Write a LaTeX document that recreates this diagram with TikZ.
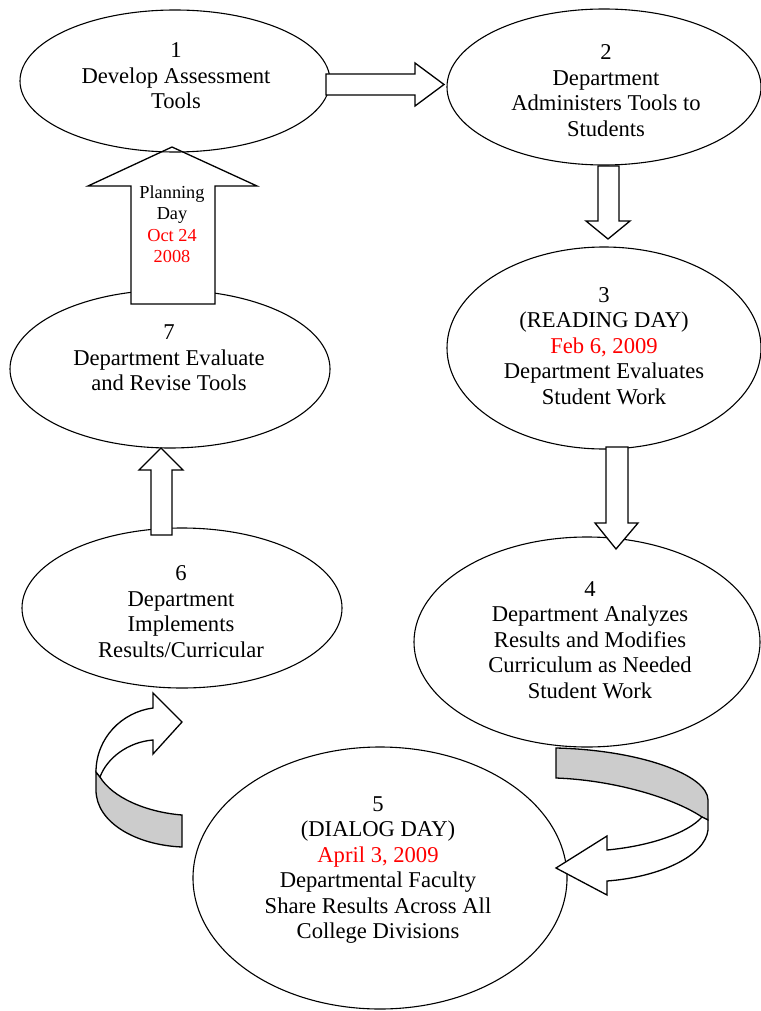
\documentclass[tikz,border=0pt]{standalone}
\usepackage{fontspec}
\setmainfont{Liberation Serif}
\usetikzlibrary{shapes.geometric}

\tikzset{
  stage/.style={draw, ellipse, line width=1.1pt, inner sep=0pt},
  blockarrow/.style={draw, fill=white, line width=1.3pt, line join=miter},
  ribbonback/.style={draw, fill=gray!40, line width=1.3pt, line join=miter},
  stagetext/.style={align=center, inner sep=0pt, font=\fontsize{22.6}{25.5}\selectfont},
  smalltext/.style={align=center, inner sep=0pt, font=\fontsize{18.3}{21.5}\selectfont}
}

\begin{document}
\begin{tikzpicture}[x=1pt, y=-1pt]
\useasboundingbox (0,0) rectangle (760,1011);

% the ellipses
\node[stage, minimum width=320pt, minimum height=158pt] (e7) at (170,369) {};
\node[stage, minimum width=320pt, minimum height=160pt] (e6) at (182,608) {};
\node[stage, minimum width=314pt, minimum height=156pt] (e2) at (604,87) {};
\node[stage, minimum width=314pt, minimum height=202pt] (e3) at (604,348) {};
\node[stage, minimum width=346pt, minimum height=210pt] (e4) at (587,642) {};
\node[stage, minimum width=374pt, minimum height=262pt] (e5) at (380,878) {};

% planning day arrow, 7 -> 1
\draw[blockarrow] (131,304) -- (131,186) -- (88,186) -- (172,147) -- (257,186) -- (215,186) -- (215,304) -- cycle;
\node[stage, minimum width=310pt, minimum height=142pt] (e1) at (175,81) {};

% straight block arrows
\draw[blockarrow] (326,74) -- (415,74) -- (415,63) -- (444,84.5) -- (415,106) -- (415,95) -- (326,95) -- cycle;
\draw[blockarrow] (598,166) -- (619,166) -- (619,221) -- (630,221) -- (608,239) -- (586,221) -- (598,221) -- cycle;
\draw[blockarrow] (606,447) -- (628,447) -- (628,523) -- (638,523) -- (616,549) -- (595,523) -- (606,523) -- cycle;
\draw[blockarrow] (151,535) -- (151,470) -- (139,470) -- (161,448) -- (183,470) -- (172,470) -- (172,535) -- cycle;

% curved arrow 4 -> 5
\draw[ribbonback] (556,748) .. controls (640,750) and (708,775) .. (708,800) -- (708,820) -- (702,817)
  .. controls (672,797) and (612,780) .. (556,778) -- cycle;
\draw[blockarrow] (702,817) -- (708,820) -- (708,830) .. controls (705,856) and (660,877) .. (607,881)
  -- (607,895) -- (556,868) -- (607,836) -- (607,850) .. controls (650,846) and (688,833) .. (702,817) -- cycle;

% curved arrow 5 -> 6
\draw[ribbonback] (96,772) -- (100,777) .. controls (112,797) and (145,812) .. (182,815) -- (182,847)
  .. controls (135,845) and (96,822) .. (96,790) -- cycle;
\draw[blockarrow] (96,772) .. controls (96,738) and (122,712) .. (153,708) -- (153,693) -- (182,722)
  -- (153,754) -- (153,740) .. controls (128,742) and (107,758) .. (100,777) -- cycle;

% the texts
\node[stagetext] (t1) at (176,76) {1\\Develop Assessment\\Tools};
\node[stagetext] (t2) at (606,90.5) {2\\Department\\Administers Tools to\\Students};
\node[stagetext] (t3) at (604,346) {3\\(READING DAY)\\\textcolor{red}{Feb 6, 2009}\\Department Evaluates\\Student Work};
\node[stagetext] (t4) at (590,640) {4\\Department Analyzes\\Results and Modifies\\Curriculum as Needed\\Student Work};
\node[stagetext] (t5) at (378,870) {5\\(DIALOG DAY)\\\textcolor{red}{April 3, 2009}\\Departmental Faculty\\Share Results Across All\\College Divisions};
\node[stagetext] (t6) at (181,611.5) {6\\Department\\Implements\\Results/Curricular};
\node[stagetext] (t7) at (169,358) {7\\Department Evaluate\\and Revise Tools};
\node[smalltext] (tp) at (172,224) {Planning\\Day\\\textcolor{red}{Oct 24}\\\textcolor{red}{2008}};
\end{tikzpicture}
\end{document}
